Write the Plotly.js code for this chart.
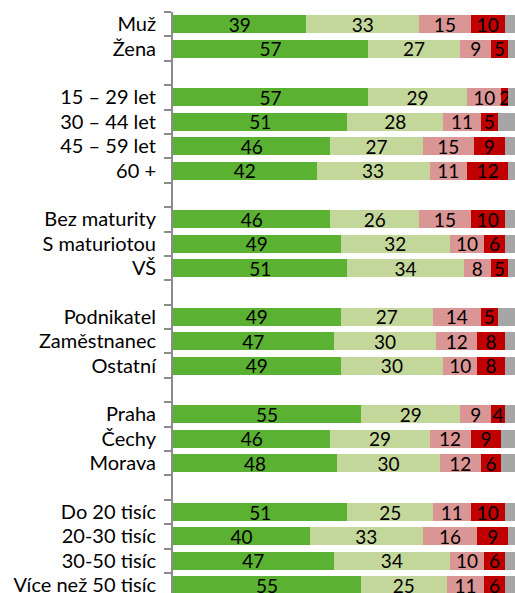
<!DOCTYPE html>
<html>
<head>
<meta charset="utf-8">
<script src="https://cdn.plot.ly/plotly-3.0.1.min.js"></script>
<style>html,body{margin:0;padding:0;background:#fff;}#chart{width:515px;height:593px;}</style>
</head>
<body>
<div id="chart"></div>
<script>
// Categories (blank entries are group spacers)
const categories = [
  "Muž", "Žena", " ",
  "15 – 29 let", "30 – 44 let", "45 – 59 let", "60 +", "  ",
  "Bez maturity", "S maturiotou", "VŠ", "   ",
  "Podnikatel", "Zaměstnanec", "Ostatní", "    ",
  "Praha", "Čechy", "Morava", "     ",
  "Do 20 tisíc", "20-30 tisíc", "30-50 tisíc", "Více než 50 tisíc"
];
const s1 = [39, 57, null, 57, 51, 46, 42, null, 46, 49, 51, null, 49, 47, 49, null, 55, 46, 48, null, 51, 40, 47, 55];
const s2 = [33, 27, null, 29, 28, 27, 33, null, 26, 32, 34, null, 27, 30, 30, null, 29, 29, 30, null, 25, 33, 34, 25];
const s3 = [15, 9, null, 10, 11, 15, 11, null, 15, 10, 8, null, 14, 12, 10, null, 9, 12, 12, null, 11, 16, 10, 11];
const s4 = [10, 5, null, 2, 5, 9, 12, null, 10, 6, 5, null, 5, 8, 8, null, 4, 9, 6, null, 10, 9, 6, 6];
const s5 = [3, 2, null, 2, 5, 3, 2, null, 3, 3, 2, null, 5, 3, 3, null, 3, 4, 4, null, 3, 2, 3, 3];

const colors = ["#5bb132", "#c4d79b", "#da9694", "#c00000", "#a6a6a6"];
const series = [s1, s2, s3, s4, s5];
const font = "Lato, 'Open Sans', sans-serif";

const traces = series.map((vals, i) => ({
  type: "bar",
  orientation: "h",
  y: categories,
  x: vals,
  marker: {color: colors[i], line: {width: 0}},
  text: i < 4 ? vals.map(v => v == null ? "" : String(v)) : vals.map(() => ""),
  textposition: "inside",
  insidetextanchor: "middle",
  textangle: 0,
  constraintext: "none",
  textfont: {family: font, size: 19, color: "#000"},
  hoverinfo: "skip",
  showlegend: false
}));

const layout = {
  width: 515, height: 593,
  margin: {l: 173, r: 0, t: 12, b: 0, pad: 0},
  barmode: "stack",
  bargap: 0.26,
  paper_bgcolor: "#fff",
  plot_bgcolor: "#fff",
  showlegend: false,
  xaxis: {range: [0, 100], visible: false, fixedrange: true},
  yaxis: {
    type: "category",
    categoryorder: "array",
    categoryarray: categories,
    range: [23.32, -0.5],
    showline: true, linecolor: "#8c8c8c", linewidth: 2,
    ticks: "outside", ticklen: 7, tickwidth: 2, tickcolor: "#8c8c8c",
    tickson: "boundaries",
    showgrid: false, zeroline: false,
    ticklabelstandoff: 11,
    tickfont: {family: font, size: 20, color: "#000"},
    fixedrange: true
  }
};

Plotly.newPlot("chart", traces, layout, {staticPlot: true});
</script>
</body>
</html>
